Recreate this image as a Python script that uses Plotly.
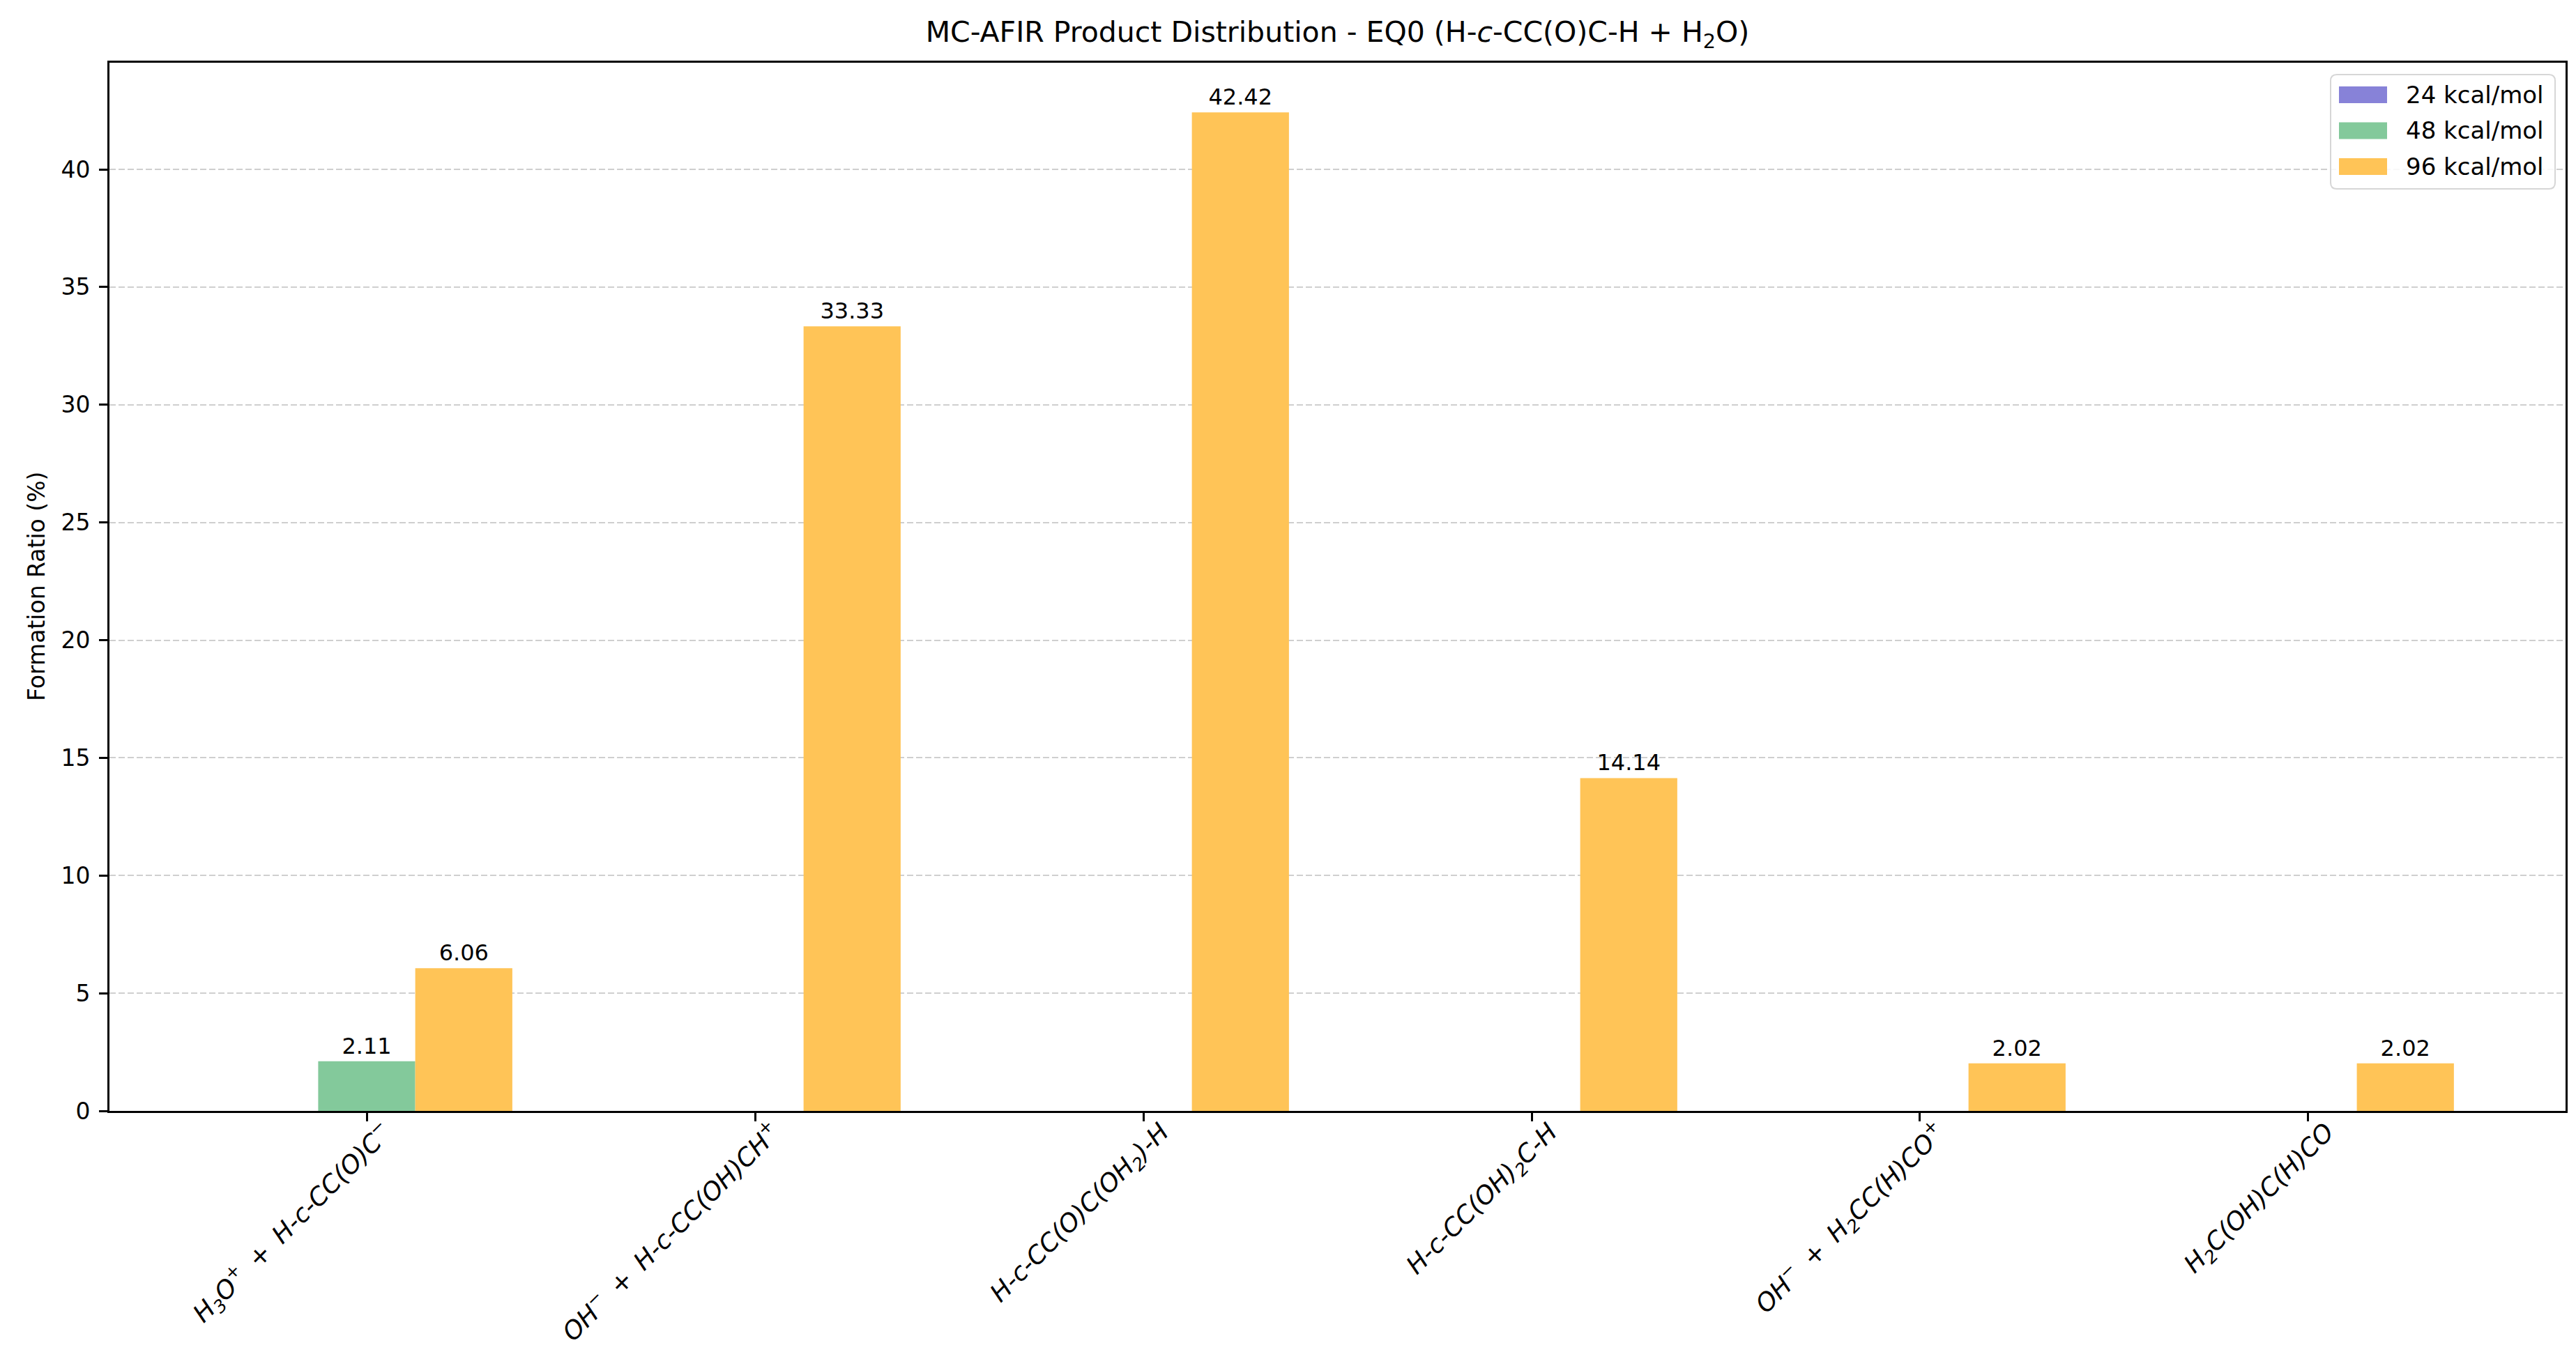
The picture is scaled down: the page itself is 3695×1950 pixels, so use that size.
import plotly.graph_objects as go

PL = "\u2009+\u2009"
categories = [
    f"<i>H<sub>3</sub>O<sup>+</sup> {PL} H-c-CC(O)C<sup>−</sup></i>",
    f"<i>OH<sup>−</sup> {PL} H-c-CC(OH)CH<sup>+</sup></i>",
    "<i>H-c-CC(O)C(OH<sub>2</sub>)-H</i>",
    "<i>H-c-CC(OH)<sub>2</sub>C-H</i>",
    f"<i>OH<sup>−</sup> {PL} H<sub>2</sub>CC(H)CO<sup>+</sup></i>",
    "<i>H<sub>2</sub>C(OH)C(H)CO</i>",
]
series_names = ["24 kcal/mol", "48 kcal/mol", "96 kcal/mol"]
vals_24 = [0, 0, 0, 0, 0, 0]
vals_48 = [2.11, 0, 0, 0, 0, 0]
vals_96 = [6.06, 33.33, 42.42, 14.14, 2.02, 2.02]
colors = ["#8782D8", "#83C99B", "#FFC457"]

W, H = 3695, 1950
L, R, T, B = 149, 23, 82, 364
pw = W - L - R
ph = H - T - B
FS = 33


def px(x):
    return (x - L) / pw


def py(y):
    return 1 - (y - T) / ph


fig = go.Figure()
for name, vals, col in zip(series_names, [vals_24, vals_48, vals_96], colors):
    fig.add_trace(go.Bar(
        x=list(range(len(categories))), y=vals, name=name,
        marker=dict(color=col, line=dict(width=0)),
        text=[f"{v:.2f}" if v > 0 else "" for v in vals],
        textposition="outside", cliponaxis=False,
        textfont=dict(size=32, color="black", family="DejaVu Sans"),
        showlegend=False,
    ))

fig.update_layout(
    width=W, height=H,
    margin=dict(l=L, r=R, t=T, b=B, autoexpand=False),
    paper_bgcolor="white", plot_bgcolor="white",
    font=dict(family="DejaVu Sans", size=FS, color="black"),
    barmode="group", bargap=0.25, bargroupgap=0,
    title=dict(text="MC-AFIR Product Distribution - EQ0 (H-<i>c</i>-CC(O)C-H + H<sub>2</sub>O)",
               x=(L + pw / 2) / W, xanchor="center", y=1 - 38 / H, yanchor="middle",
               yref="container", font=dict(size=41, family="DejaVu Sans", color="black")),
    showlegend=False,
)
fig.update_xaxes(
    tickmode="array", tickvals=list(range(len(categories))), ticktext=categories,
    range=[-0.6625, 5.6625], tickangle=-45,
    showline=True, linecolor="black", linewidth=2.6, mirror=True,
    ticks="outside", ticklen=12, tickwidth=2.6, tickcolor="black",
    tickfont=dict(size=36, family="DejaVu Sans", color="black"),
    ticklabelstandoff=-20, ticklabelshift=26,
    showgrid=False, zeroline=False,
)
fig.update_yaxes(
    range=[0, 44.53], tickvals=[0, 5, 10, 15, 20, 25, 30, 35, 40],
    showline=True, linecolor="black", linewidth=2.6, mirror=True,
    ticks="outside", ticklen=12, tickwidth=2.6, tickcolor="black",
    tickfont=dict(size=FS, family="DejaVu Sans", color="black"),
    ticklabelstandoff=6,
    showgrid=True, gridcolor="#cfcfcf", gridwidth=2, griddash="9px,4px",
    zeroline=False,
)
fig.add_annotation(
    text="Formation Ratio (%)", textangle=-90,
    xref="paper", yref="paper", x=px(44), y=0.5,
    xanchor="center", yanchor="middle", showarrow=False,
    font=dict(size=FS, family="DejaVu Sans", color="black"),
)

# legend box (matplotlib-style, rounded corners)
x0, x1, y0, y1 = px(3335), px(3657), py(263), py(99)
rx, ry = 9 / pw, 9 / ph
path = (f"M {x0+rx},{y0} L {x1-rx},{y0} Q {x1},{y0} {x1},{y0+ry} "
        f"L {x1},{y1-ry} Q {x1},{y1} {x1-rx},{y1} L {x0+rx},{y1} "
        f"Q {x0},{y1} {x0},{y1-ry} L {x0},{y0+ry} Q {x0},{y0} {x0+rx},{y0} Z")
fig.add_shape(type="path", path=path, xref="paper", yref="paper",
              fillcolor="rgba(255,255,255,0.85)", line=dict(color="#d6d6d6", width=2),
              layer="above")
for i, (name, col) in enumerate(zip(series_names, colors)):
    cy = 128 + i * 51.5
    fig.add_shape(type="rect", xref="paper", yref="paper",
                  x0=px(3347), x1=px(3416), y0=py(cy + 12), y1=py(cy - 12),
                  fillcolor=col, line=dict(width=0), layer="above")
    fig.add_annotation(text=name, xref="paper", yref="paper", x=px(3441), y=py(cy),
                       xanchor="left", yanchor="middle", showarrow=False,
                       font=dict(size=34, family="DejaVu Sans", color="black"))

fig.write_html("out.html")
